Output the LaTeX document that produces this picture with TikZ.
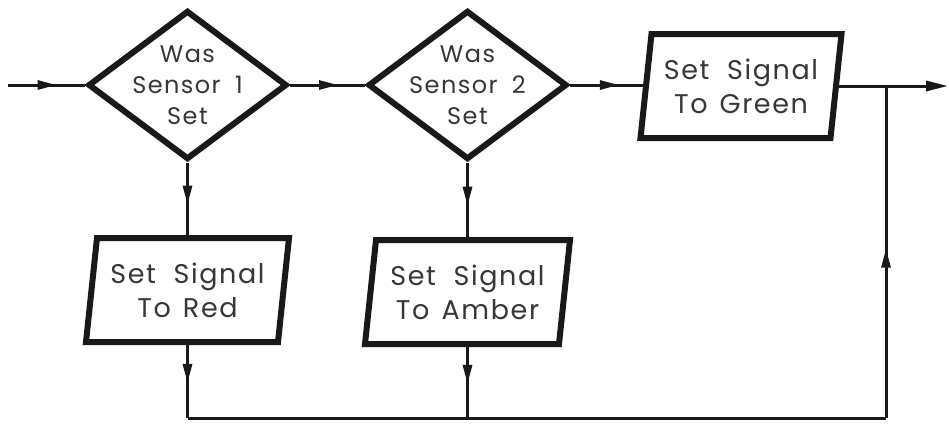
\documentclass[tikz,border=0pt]{standalone}
\usepackage{fontspec}
\setmainfont{Poppins}[LetterSpace=6]
\usetikzlibrary{shapes.geometric,arrows.meta,decorations.markings,calc}
\definecolor{ink}{RGB}{25,25,25}
\definecolor{txtc}{RGB}{55,55,55}
\begin{document}
\begin{tikzpicture}[x=1pt,y=-1pt,
  dia/.style={shape=diamond, draw=ink, line width=6pt, minimum width=199pt, minimum height=149pt, inner sep=0pt},
  boxnode/.style={rectangle, minimum height=110pt, inner sep=0pt, outer sep=0pt, align=center, text=txtc, font=\fontsize{27}{34}\selectfont},
  para/.style={draw=ink, line width=6pt, line join=miter},
  dtxt/.style={align=center, text=txtc, font=\fontsize{24}{31}\selectfont, inner sep=0pt},
  conn/.style={draw=ink, line width=3pt},
  midarr/.style={postaction={decorate, decoration={markings, mark=at position #1 with {\arrow{Triangle[length=19pt,width=9pt]}}}}},
  endarr/.style={-{Triangle[length=22pt,width=10pt]}}
]
\useasboundingbox[fill=white] (0,0) rectangle (949,423);

% decisions
\node[dia] (d1) at (187.5,85) {};
\node[dtxt] (d1t) at (187.5,85) {Was\\Sensor\hspace{0.6em}1\\Set};
\node[dia] (d2) at (467.5,85) {};
\node[dtxt] (d2t) at (467.5,85) {Was\\Sensor\hspace{0.6em}2\\Set};

% processes
\node[boxnode, minimum width=198pt] (red) at (187.5,290) {Set\hspace{0.65em}Signal\\To\hspace{0.45em}Red};
\node[boxnode, minimum width=200pt] (amber) at (467.5,292) {Set\hspace{0.65em}Signal\\To\hspace{0.45em}Amber};
\node[boxnode, minimum width=196pt] (green) at (741,86) {Set\hspace{0.65em}Signal\\To\hspace{0.45em}Green};

\foreach \n in {red,amber,green}{
  \draw[para] ([shift={(8.5pt,-3pt)}]\n.north west) -- ([shift={(2.5pt,-3pt)}]\n.north east)
     -- ([shift={(-8.5pt,3pt)}]\n.south east) -- ([shift={(-2.5pt,3pt)}]\n.south west) -- cycle;
}

% connector points
\coordinate (in) at (8,85);
\coordinate (out) at (948,86);
\coordinate (j) at (886,86);
\coordinate (corner) at (886,418);

% connectors
\draw[conn, midarr=0.63] (in) -- (d1.west);
\draw[conn, midarr=0.64] (d1.east) -- (d2.west);
\draw[conn, midarr=0.67] (d2.east) -- (d2.east -| green.west);
\draw[conn, endarr] (green.east) -- (out);
\draw[conn, midarr=0.58] (d1.south) -- (d1.south |- red.north);
\draw[conn, midarr=0.58] (d2.south) -- (d2.south |- amber.north);
\draw[conn, midarr=0.52] (red.south) -- (red.south |- corner);
\draw[conn, midarr=0.52] (amber.south) -- (amber.south |- corner);
\draw[conn] (red.south |- corner) -- (corner);
\draw[conn, midarr=0.51] (corner) -- (j);
\end{tikzpicture}
\end{document}
